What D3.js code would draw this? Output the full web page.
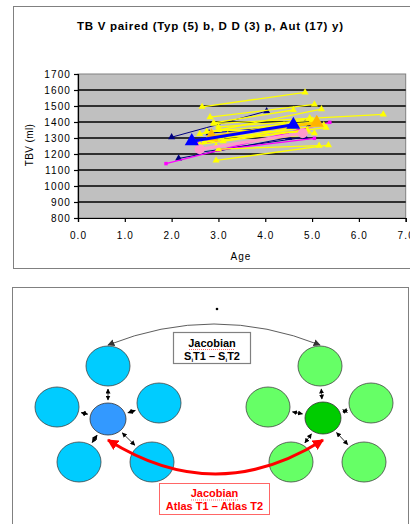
<!DOCTYPE html>
<html>
<head>
<meta charset="utf-8">
<script src="https://cdn.jsdelivr.net/npm/d3@7"></script>
<style>
body { margin: 0; background: #fff; }
svg { display: block; font-family: "Liberation Sans", Arial, sans-serif; }
</style>
</head>
<body>
<div id="chart"></div>
<script>
"use strict";

// paired scans, one row per subject: [age1, tbv1, age2, tbv2]
var typPairs = [
  [2.00, 1305, 4.03, 1468],
  [2.15, 1172, 4.50, 1302],
  [2.45, 1280, 4.85, 1395],
  [2.60, 1210, 4.85, 1305],
  [2.80, 1330, 4.95, 1385]
];
var ddPairs = [
  [1.88, 1140, 5.38, 1398],
  [3.00, 1225, 5.05, 1298],
  [2.55, 1265, 4.70, 1345]
];
var autPairs = [
  [2.65, 1495, 4.85, 1585],
  [2.82, 1430, 5.05, 1510],
  [2.90, 1395, 4.60, 1475],
  [2.60, 1325, 5.20, 1480],
  [2.90, 1390, 6.52, 1448],
  [2.95, 1160, 5.35, 1255],
  [3.00, 1230, 5.15, 1252],
  [2.70, 1275, 5.30, 1365],
  [2.90, 1300, 4.95, 1425],
  [3.00, 1350, 5.05, 1330],
  [2.75, 1340, 5.10, 1400],
  [3.10, 1280, 4.70, 1370],
  [2.85, 1290, 5.25, 1380],
  [3.20, 1320, 4.40, 1380],
  [2.60, 1260, 4.90, 1350],
  [3.00, 1370, 5.00, 1410],
  [2.95, 1250, 4.80, 1320]
];
var typMean = [2.43, 1280, 4.60, 1383];
var ddMean = [2.60, 1230, 4.80, 1330];
var autMean = [2.85, 1310, 5.10, 1395];

var yTicks = [800, 900, 1000, 1100, 1200, 1300, 1400, 1500, 1600, 1700];
var xTicks = [0, 1, 2, 3, 4, 5, 6, 7];

var titleText = "TB V paired (Typ (5) b, D D (3) p, Aut (17) y)";

var svg = d3.select("#chart").append("svg")
  .attr("width", 410)
  .attr("height", 524);

// ---------- top chart ----------
svg.append("rect")
  .attr("x", 13.5).attr("y", 6.5)
  .attr("width", 420).attr("height", 262)
  .attr("fill", "#fff").attr("stroke", "#808080");

var x = d3.scaleLinear().domain([0, 7]).range([78, 405.7]);
var y = d3.scaleLinear().domain([800, 1700]).range([218, 74]);

svg.append("rect")
  .attr("x", x(0)).attr("y", y(1700))
  .attr("width", x(7) - x(0)).attr("height", y(800) - y(1700))
  .attr("fill", "#c0c0c0").attr("stroke", "#808080");

svg.append("g").selectAll("line")
  .data(yTicks.filter(function(d) { return d > 800 && d < 1700; }))
  .enter().append("line")
  .attr("x1", x(0)).attr("x2", x(7))
  .attr("y1", function(d) { return y(d); })
  .attr("y2", function(d) { return y(d); })
  .attr("stroke", "#000").attr("stroke-width", 1.3);

var yAxis = svg.append("g")
  .attr("transform", "translate(" + x(0) + ",0)")
  .call(d3.axisLeft(y).tickValues(yTicks).tickSize(4).tickPadding(3).tickFormat(d3.format("d")));
var xAxis = svg.append("g")
  .attr("transform", "translate(0," + y(800) + ")")
  .call(d3.axisBottom(x).tickValues(xTicks).tickSize(4).tickPadding(10).tickFormat(d3.format(".1f")));

[yAxis, xAxis].forEach(function(ax) {
  ax.select(".domain").attr("stroke", "#000").attr("stroke-width", 1.2);
  ax.selectAll(".tick line").attr("stroke", "#000").attr("stroke-width", 1.2);
  ax.selectAll("text")
    .attr("fill", "#000")
    .style("font-family", "Liberation Sans, Arial, sans-serif")
    .style("font-size", "10px")
    .style("letter-spacing", "1.1px");
});

svg.append("text")
  .attr("x", 210).attr("y", 30)
  .attr("text-anchor", "middle")
  .attr("textLength", 266).attr("lengthAdjust", "spacing")
  .style("font-size", "11.5px").style("font-weight", "bold")
  .text(titleText);

svg.append("text")
  .attr("transform", "translate(33,145) rotate(-90)")
  .attr("text-anchor", "middle")
  .style("font-size", "10px").style("letter-spacing", "0.4px")
  .text("TBV (ml)");

svg.append("text")
  .attr("x", 241).attr("y", 260)
  .attr("text-anchor", "middle")
  .style("font-size", "10px").style("letter-spacing", "1px")
  .text("Age");

var plot = svg.append("g");

function drawPairs(rows, color, width, shape, size, markColor) {
  var g = plot.append("g");
  g.selectAll("line").data(rows).enter().append("line")
    .attr("x1", function(d) { return x(d[0]); })
    .attr("y1", function(d) { return y(d[1]); })
    .attr("x2", function(d) { return x(d[2]); })
    .attr("y2", function(d) { return y(d[3]); })
    .attr("stroke", color).attr("stroke-width", width);
  var pts = [];
  rows.forEach(function(d) { pts.push([d[0], d[1]]); pts.push([d[2], d[3]]); });
  g.selectAll("path").data(pts).enter().append("path")
    .attr("d", d3.symbol().type(shape).size(size))
    .attr("transform", function(d) { return "translate(" + x(d[0]) + "," + y(d[1]) + ")"; })
    .attr("fill", markColor || color);
}

drawPairs(typPairs, "#000080", 1, d3.symbolTriangle, 22);
drawPairs(ddPairs, "#ff00ff", 1.3, d3.symbolSquare, 12);
drawPairs(autPairs, "#ffff00", 1.3, d3.symbolTriangle, 22);
drawPairs([ddMean], "#ff99cc", 3, d3.symbolCircle, 80);
drawPairs([autMean], "#ffcc00", 3, d3.symbolTriangle, 85, "#ffb400");
drawPairs([typMean], "#0000ff", 3, d3.symbolTriangle, 85);

// ---------- bottom diagram ----------
svg.append("rect")
  .attr("x", 12.5).attr("y", 287.5)
  .attr("width", 396).attr("height", 260)
  .attr("fill", "#fff").attr("stroke", "#808080");

svg.append("circle").attr("cx", 217).attr("cy", 309).attr("r", 1.3).attr("fill", "#000");

var defs = svg.append("defs");
function arrowMarker(id, color, w) {
  defs.append("marker")
    .attr("id", id)
    .attr("viewBox", "0 -5 10 10")
    .attr("refX", 9).attr("refY", 0)
    .attr("markerUnits", "userSpaceOnUse")
    .attr("markerWidth", w).attr("markerHeight", w)
    .attr("orient", "auto-start-reverse")
    .append("path").attr("d", "M0,-5L10,0L0,5Z").attr("fill", color);
}
arrowMarker("ab", "#000", 5);
arrowMarker("ak", "#333", 7);
arrowMarker("ar", "#ff0000", 11);

// group centres and outer node offsets
var groups = [
  { cx: 108, cy: 419, outer: "#00ccff", inner: "#3399ff",
    nodes: [[0, -53], [-51, -12], [51, -16], [-29, 43], [44, 43]] },
  { cx: 323, cy: 418, outer: "#66ff66", inner: "#00cc00",
    nodes: [[-3, -52], [-55, -11], [48, -15], [-32, 44], [41, 44]] }
];
var outerR = [22, 20], innerR = [18, 16];

function edge(ux, uy, r) {
  return 1 / Math.sqrt((ux / r[0]) * (ux / r[0]) + (uy / r[1]) * (uy / r[1]));
}

groups.forEach(function(grp) {
  var g = svg.append("g");
  g.selectAll("ellipse.o").data(grp.nodes).enter().append("ellipse")
    .attr("cx", function(d) { return grp.cx + d[0]; })
    .attr("cy", function(d) { return grp.cy + d[1]; })
    .attr("rx", outerR[0]).attr("ry", outerR[1])
    .attr("fill", grp.outer).attr("stroke", "#444").attr("stroke-width", 0.8);
  g.append("ellipse")
    .attr("cx", grp.cx).attr("cy", grp.cy)
    .attr("rx", innerR[0]).attr("ry", innerR[1])
    .attr("fill", grp.inner).attr("stroke", "#333").attr("stroke-width", 0.8);
  g.selectAll("line").data(grp.nodes).enter().append("line")
    .each(function(d) {
      var len = Math.sqrt(d[0] * d[0] + d[1] * d[1]);
      var ux = d[0] / len, uy = d[1] / len;
      var a = edge(ux, uy, innerR) + 3, b = len - edge(ux, uy, outerR) - 3;
      d3.select(this)
        .attr("x1", grp.cx + ux * a).attr("y1", grp.cy + uy * a)
        .attr("x2", grp.cx + ux * b).attr("y2", grp.cy + uy * b);
    })
    .attr("stroke", "#000").attr("stroke-width", 0.8)
    .attr("marker-start", "url(#ab)").attr("marker-end", "url(#ab)");
});

// subject arc over the top
svg.append("path")
  .attr("d", "M108,345 Q214,303 320,345")
  .attr("fill", "none").attr("stroke", "#333").attr("stroke-width", 0.8)
  .attr("marker-start", "url(#ak)").attr("marker-end", "url(#ak)");

// atlas arc underneath
svg.append("path")
  .attr("d", "M108,440 Q215.5,508 323,440")
  .attr("fill", "none").attr("stroke", "#ff0000").attr("stroke-width", 3)
  .attr("marker-start", "url(#ar)").attr("marker-end", "url(#ar)");

// label boxes
svg.append("rect")
  .attr("x", 173.5).attr("y", 332.5).attr("width", 77).attr("height", 31)
  .attr("fill", "#fff").attr("stroke", "#808080").attr("stroke-width", 1.2);
svg.append("text")
  .attr("x", 212).attr("y", 346.5).attr("text-anchor", "middle")
  .style("font-size", "11px").style("font-weight", "bold")
  .text("Jacobian");
svg.append("line")
  .attr("x1", 189).attr("x2", 235).attr("y1", 349.5).attr("y2", 349.5)
  .attr("stroke", "#ff0000").attr("stroke-width", 0.6).attr("stroke-dasharray", "1,1");
var sub = svg.append("text")
  .attr("x", 212).attr("y", 359.5).attr("text-anchor", "middle")
  .style("font-size", "11px").style("font-weight", "bold");
sub.append("tspan").text("S");
sub.append("tspan").attr("dy", 2).style("font-size", "6px").text("i");
sub.append("tspan").attr("dy", -2).text("T1 \u2013 S");
sub.append("tspan").attr("dy", 2).style("font-size", "6px").text("i");
sub.append("tspan").attr("dy", -2).text("T2");

svg.append("rect")
  .attr("x", 159.5).attr("y", 483.5).attr("width", 110).attr("height", 31)
  .attr("fill", "#fff").attr("stroke", "#ff6666").attr("stroke-width", 1);
svg.append("text")
  .attr("x", 214.5).attr("y", 497).attr("text-anchor", "middle")
  .attr("fill", "#ff0000")
  .style("font-size", "11px").style("font-weight", "bold")
  .text("Jacobian");
svg.append("line")
  .attr("x1", 191).attr("x2", 238).attr("y1", 500).attr("y2", 500)
  .attr("stroke", "#ff0000").attr("stroke-width", 0.6).attr("stroke-dasharray", "1,1");
svg.append("text")
  .attr("x", 214.5).attr("y", 510).attr("text-anchor", "middle")
  .attr("fill", "#ff0000")
  .style("font-size", "11px").style("font-weight", "bold")
  .text("Atlas T1 \u2013 Atlas T2");
</script>
</body>
</html>
